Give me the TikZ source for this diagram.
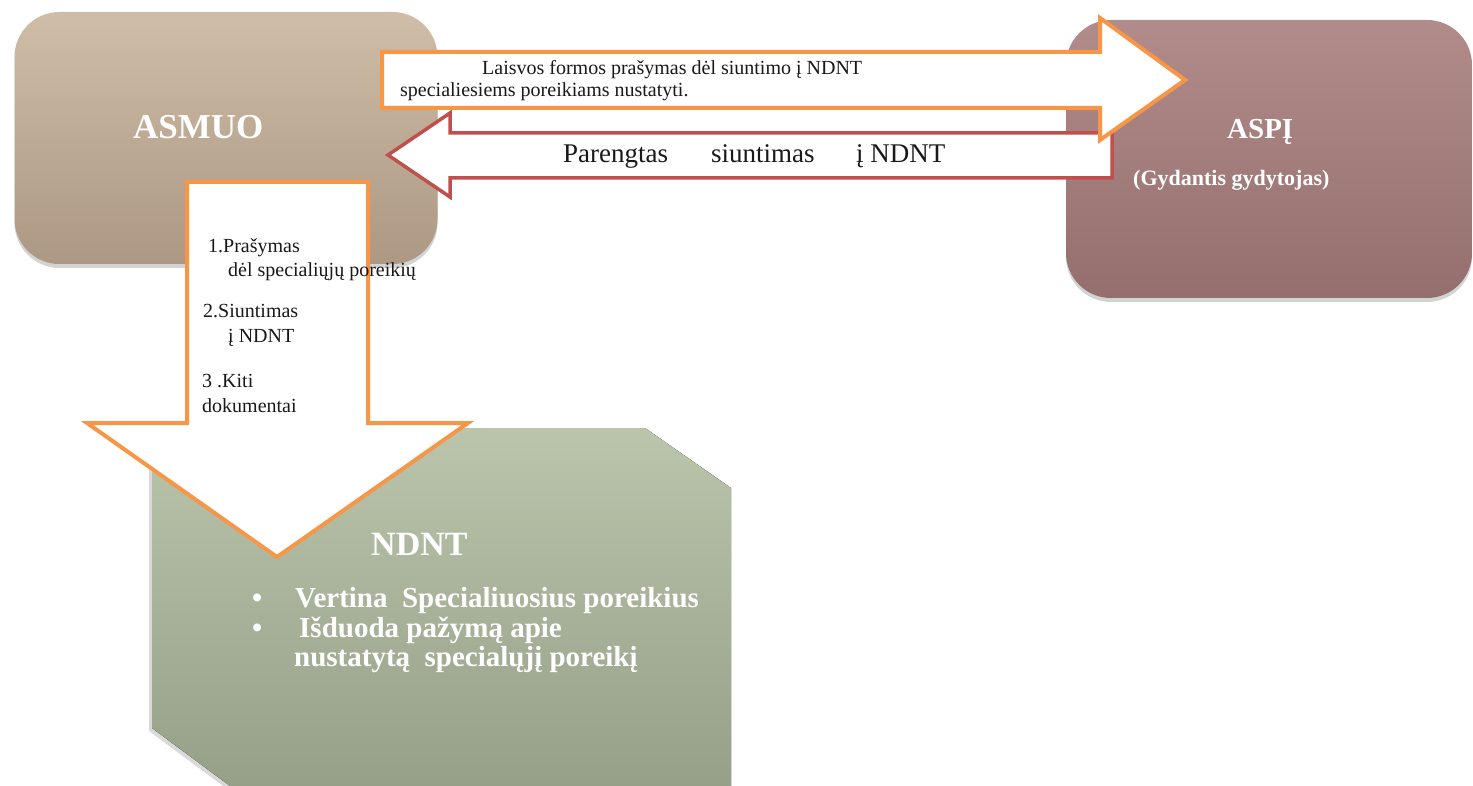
\documentclass[tikz,border=0pt]{standalone}
\usepackage{fontspec}
\setmainfont{Liberation Serif}
\usetikzlibrary{positioning,shapes,shadows,arrows}

\definecolor{asmuoTop}{HTML}{CFBDA8}
\definecolor{asmuoBot}{HTML}{AC9883}
\definecolor{aspiTop}{HTML}{B28C8A}
\definecolor{aspiBot}{HTML}{946F6D}
\definecolor{ndntTop}{HTML}{BAC5AC}
\definecolor{ndntBot}{HTML}{959E86}
\definecolor{arrOrange}{HTML}{F79646}
\definecolor{arrRed}{HTML}{C0504D}

\begin{document}
\begin{tikzpicture}[x=1pt, y=-1pt,
  box/.style={rounded corners=45pt, minimum width=423pt, minimum height=252pt,
    drop shadow={opacity=0.35, shadow xshift=0pt, shadow yshift=-4pt}},
  orangearrow/.style={draw=arrOrange, line width=4pt, fill=white, line join=miter},
  redarrow/.style={draw=arrRed, line width=3.5pt, fill=white, line join=miter},
  title/.style={text=white, anchor=base west, inner sep=0pt},
  txt/.style={anchor=base west, inner sep=0pt, text=black!90}]
  \useasboundingbox (0,0) rectangle (1473,786);

  % boxes
  \node[box, top color=asmuoTop, bottom color=asmuoBot] (asmuo) at (226,138) {};
  \node[box, top color=aspiTop, bottom color=aspiBot, minimum width=406pt, minimum height=278pt] (aspi) at (1269,159) {};
  \fill[top color=ndntTop, bottom color=ndntBot,
    drop shadow={opacity=0.3, shadow xshift=-3pt, shadow yshift=-3pt}]
    (152,428) -- (645,428) -- (731,488) -- (731,800) -- (249,800) -- (152,728) -- cycle;

  \node[title, font=\bfseries\fontsize{35}{40}\selectfont] (asmuoT) at (133,139) {ASMUO};
  \node[title, font=\bfseries\fontsize{29}{34}\selectfont] (aspiT) at (1227,139) {ASPĮ};
  \node[title, font=\bfseries\fontsize{22}{26}\selectfont] (gydT) at (1133,186) {(Gydantis gydytojas)};

  % arrows
  \draw[redarrow] (1112,133) -- (450,133) -- (450,113) -- (388,155) -- (450,197) -- (450,178) -- (1112,178) -- cycle;
  \draw[orangearrow] (382,52) -- (1100,52) -- (1100,18) -- (1185,80) -- (1100,140) -- (1100,108) -- (382,108) -- cycle;
  \draw[orangearrow] (187,182) -- (368,182) -- (368,423) -- (468,423) -- (277,557) -- (87,423) -- (187,423) -- cycle;

  \begin{scope}[font=\fontsize{20}{24}\selectfont]
    \node[txt] (req1) at (482,75) {Laisvos formos prašymas dėl siuntimo į NDNT};
    \node[txt] (req2) at (400,97) {specialiesiems poreikiams nustatyti.};
  \end{scope}
  \begin{scope}[font=\fontsize{27}{30}\selectfont]
    \node[txt] (sent1) at (563,163) {Parengtas};
    \node[txt] (sent2) at (711,163) {siuntimas};
    \node[txt] (sent3) at (856,163) {į NDNT};
  \end{scope}
  \begin{scope}[font=\fontsize{20}{24}\selectfont]
    \node[txt] (doc1) at (208,253) {1.Prašymas};
    \node[txt] (doc1b) at (228,277) {dėl specialiųjų poreikių};
    \node[txt] (doc2) at (203,318) {2.Siuntimas};
    \node[txt] (doc2b) at (228,343) {į NDNT};
    \node[txt] (doc3) at (202,388) {3 .Kiti};
    \node[txt] (doc3b) at (202,412) {dokumentai};
  \end{scope}

  \node[title, font=\bfseries\fontsize{34}{40}\selectfont] (ndntT) at (371,555) {NDNT};
  \begin{scope}[font=\bfseries\fontsize{29}{33}\selectfont]
    \node[title] (b1) at (252,607) {\textbullet};
    \node[title] (b2) at (252,637) {\textbullet};
    \node[title] (ndnt1) at (295,607) {Vertina\ \ Specialiuosius poreikius};
    \node[title] (ndnt2) at (299,637) {Išduoda pažymą apie};
    \node[title] (ndnt3) at (294,666) {nustatytą\ \ specialųjį poreikį};
  \end{scope}
\end{tikzpicture}
\end{document}
